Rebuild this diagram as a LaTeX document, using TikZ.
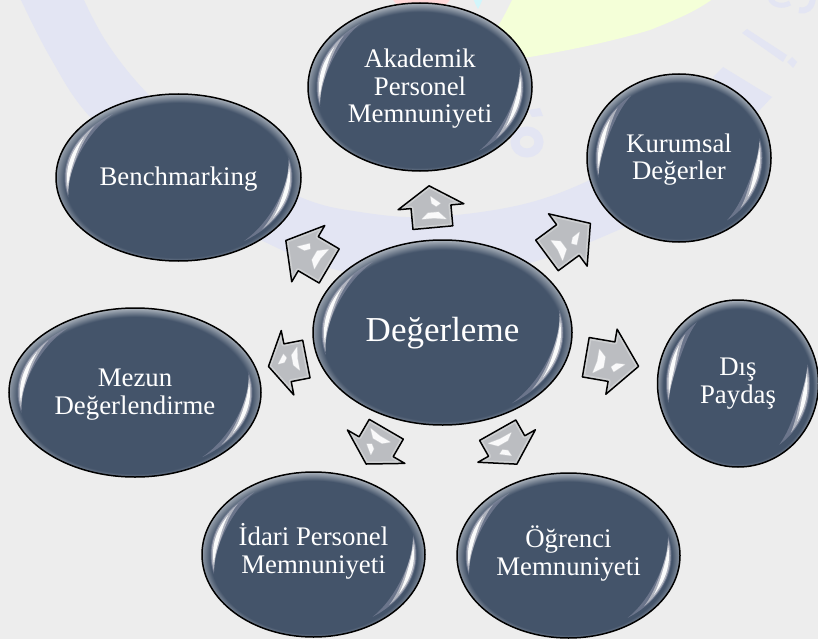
\documentclass[tikz,border=0pt]{standalone}
\usepackage{fontspec}
\setmainfont{Liberation Serif}
\usetikzlibrary{shapes.geometric,calc}
\definecolor{pagebg}{HTML}{EDEDED}
\definecolor{wmark}{HTML}{E3E5F3}
\definecolor{blobyellow}{HTML}{F4FFD8}
\definecolor{blobpink}{HTML}{FFD9D9}
\definecolor{blobcyan}{HTML}{D2F6FB}
\definecolor{arrowgrey}{HTML}{BBBDC1}
\definecolor{rimlight}{HTML}{DADBDD}
\pgfdeclareradialshading{gloss}{\pgfpoint{0bp}{-1.5bp}}{%
 rgb(0bp)=(.267,.329,.416);rgb(23.2bp)=(.267,.329,.416);rgb(26.5bp)=(.80,.82,.84);rgb(50bp)=(.80,.82,.84)}
\tikzset{
 bubble/.style={ellipse,draw=black,line width=1.5pt,shade,shading=gloss,text=white,align=center,
   inner sep=0pt,font=\fontsize{26.8}{27.5}\selectfont},
 bigbubble/.style={bubble,font=\fontsize{35}{38}\selectfont},
 arrowline/.style={draw=black,line width=1.5pt,line join=round},
 glint/.style={fill=white,fill opacity=.92,draw=white,draw opacity=.3,line width=1.2pt,line join=round}
}
\newcommand{\topgap}[1]{\rule{0pt}{#1pt}}
\newcommand{\botgap}[1]{\rule[-#1pt]{0pt}{#1pt}}
% start angle, span, radius, width, colour, opacity
\newcommand{\crescent}[6]{%
 \fill[#5,opacity=#6] plot[domain=#1:#1+#2,samples=30] ({(#3)*cos(\x)},{(#3)*sin(\x)})
  -- plot[domain=#1+#2:#1,samples=30] ({((#3)-(#4)*sin(180*(\x-#1)/#2))*cos(\x)},{((#3)-(#4)*sin(180*(\x-#1)/#2))*sin(\x)}) -- cycle;}
\newcommand{\glossy}[3]{%
 \begin{scope}[shift={(#1.center)},x=#2pt,y=#3pt]
  \foreach \st in {0,180}{
   \pgfmathsetmacro\sa{\st+125}\pgfmathsetmacro\sb{\st+138}\pgfmathsetmacro\sc{\st+148}
   \crescent{\sa}{70}{1-8.5/#2}{9/#2}{blue!15!gray!60!white}{.4}
   \crescent{\sb}{55}{1-9.5/#2}{7/#2}{blue!6!gray!25!white}{.6}
   \crescent{\sc}{40}{1-11/#2}{4/#2}{white}{.95}
  }
 \end{scope}}
% target, distance from centre to base, length, head length, stem half width, head half width
\newcommand{\blockarrow}[6]{%
 \pgfmathanglebetweenpoints{\pgfpointanchor{deg}{center}}{\pgfpointanchor{#1}{center}}%
 \let\arrang\pgfmathresult
 \pgfmathsetmacro\kk{#3-#4}%
 \def\arrpoly{(0,-#5)--(\kk,-#5)--(\kk,-#6)--(#3,0)--(\kk,#6)--(\kk,#5)--(0,#5)--cycle}%
 \begin{scope}[shift={($(deg.center)!#2pt!(#1.center)$)},rotate=\arrang]
  \fill[arrowgrey] \arrpoly;
  \begin{scope}
   \clip \arrpoly;
   \draw[rimlight,opacity=.6,line width=5pt,line join=round] \arrpoly;
   \draw[white,opacity=.3,line width=2pt,line join=round] \arrpoly;
  \end{scope}
  \begin{scope}[xscale=#3/42,yscale=#5/20]
   \path[glint] (9.5,-10)--(15,-3.5)--(15,7)--(7.5,14)--(9.5,2)--cycle;
   \path[glint] (31,.6)--(23.5,9.5)--(21,5.2)--(24.4,1)--cycle;
  \end{scope}
  \path[arrowline] \arrpoly;
 \end{scope}}
\begin{document}
\begin{tikzpicture}[x=1pt,y=-1pt]
\useasboundingbox (0,0) rectangle (818,639);
\fill[pagebg] (0,0) rectangle (818,639);
\begin{scope}
 \clip (0,0) rectangle (818,639);
 % faint watermark behind the diagram
 \fill[blobyellow] (513,-2) .. controls (508,8) and (505,15) .. (498,26) -- (500,60) -- (530,57)
   .. controls (570,50) and (610,42) .. (650,30) .. controls (675,20) and (695,12) .. (714,-2) -- cycle;
 \fill[blobpink] (392,-2) .. controls (396,6) and (405,12) .. (420,12) .. controls (436,12) and (447,6) .. (451,-2) -- cycle;
 \fill[blobcyan] (473,-2) .. controls (475,3) and (476,6) .. (478,9) .. controls (480,6) and (481,3) .. (483,-2) -- cycle;
 \fill[wmark] plot[smooth,tension=.6] coordinates {(20,-2)(50,57)(90,117)(170,190)(267,243)(337,270)(440,282)(540,260)(623,228)(700,190)}
   -- plot[smooth,tension=.6] coordinates {(650,145)(590,180)(520,205)(430,217)(360,212)(300,197)(210,150)(147,93)(107,43)(83,-2)} -- cycle;
 \fill[wmark] (713,77)--(723,67)--(772,97)--(757,113)--cycle;
 \fill[wmark] (742,33)--(747,29)--(787,55)--(783,62)--cycle;
 \fill[wmark] (787,62)--(792,57)--(797,62)--(793,68)--cycle;
 \draw[wmark,line width=9pt] (527,142) ellipse [x radius=12,y radius=11];
 \fill[wmark] (528,110)--(540,108)--(543,116)--(532,117)--cycle;
 \draw[wmark,line width=5pt] (770,-2) .. controls (773,6) and (783,7) .. (790,3);
 \draw[wmark,line width=6pt] (799,10) .. controls (806,12) and (812,8) .. (813,-2);
\end{scope}
% centre and satellites
\node[bigbubble,minimum width=259pt,minimum height=185pt] (deg) at (442.5,332.5) {\topgap{26}Değerleme};
\node[bubble,minimum width=224pt,minimum height=168pt] (aka) at (420,87) {\topgap{22}Akademik\\Personel\\Memnuniyeti};
\node[bubble,minimum width=184pt,minimum height=168pt] (kur) at (679,158) {\topgap{22}Kurumsal\\Değerler};
\node[bubble,minimum width=245pt,minimum height=167pt] (ben) at (178.5,177.5) {\topgap{22}Benchmarking};
\node[bubble,minimum width=161pt,minimum height=167pt] (dis) at (738,383.5) {Dış\\Paydaş};
\node[bubble,minimum width=252pt,minimum height=169pt] (mez) at (135,392.5) {\topgap{22}Mezun\\Değerlendirme};
\node[bubble,minimum width=223pt,minimum height=165pt] (ogr) at (568.5,555.5) {Öğrenci\\Memnuniyeti\botgap{10}};
\node[bubble,minimum width=223pt,minimum height=165pt] (ida) at (313.5,554.5) {İdari Personel\\Memnuniyeti\botgap{12}};
\glossy{deg}{129.5}{92.5}
\glossy{aka}{112}{84}
\glossy{kur}{92}{84}
\glossy{ben}{122.5}{83.5}
\glossy{dis}{80.5}{83.5}
\glossy{mez}{126}{84.5}
\glossy{ogr}{111.5}{82.5}
\glossy{ida}{111.5}{82.5}
\blockarrow{aka}{105.3}{42}{21}{20}{33}
\blockarrow{kur}{129.8}{54}{28}{19}{32.5}
\blockarrow{ben}{131.4}{50.3}{26}{19.8}{32.6}
\blockarrow{dis}{145.4}{53.6}{27.5}{20}{33}
\blockarrow{mez}{138.7}{38.6}{19.4}{19.2}{32.8}
\blockarrow{ogr}{112.2}{39}{20.8}{20.8}{33}
\blockarrow{ida}{111.9}{40.2}{20}{19.7}{33.2}
\end{tikzpicture}
\end{document}
